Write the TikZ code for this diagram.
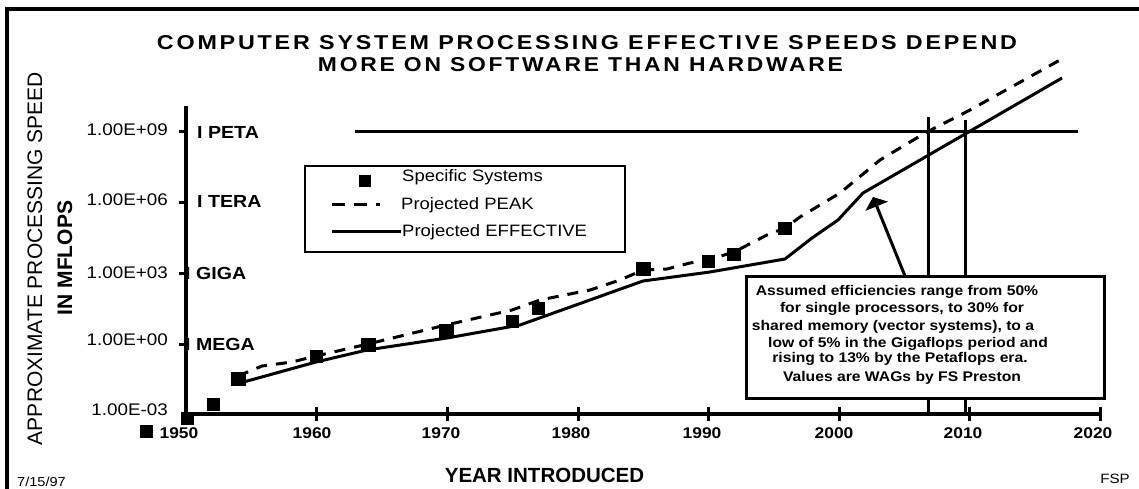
\documentclass[tikz,border=0pt]{standalone}
\usepackage{graphicx}
\usepackage{fontspec}
\setmainfont{Liberation Sans}
\newfontfamily\wide[FakeStretch=1.12]{Liberation Sans}
\newfontfamily\ttl[LetterSpace=12]{Liberation Sans}
\usetikzlibrary{arrows.meta}
\tikzset{
  lbl/.style={inner sep=0pt, anchor=east, font=\wide\fontsize{16.8}{18}\selectfont},
  mag/.style={inner sep=0pt, anchor=west, font=\wide\bfseries\fontsize{17.5}{19}\selectfont},
  yr/.style={inner sep=0pt, font=\wide\bfseries\fontsize{15.5}{17}\selectfont},
  leg/.style={inner sep=0pt, anchor=base west, font=\wide\fontsize{16.5}{18}\selectfont},
  notetxt/.style={inner sep=0pt, anchor=base, font=\wide\bfseries\fontsize{14}{16}\selectfont},
  sq/.style={fill=black, draw=none, inner sep=0pt, minimum size=13pt},
  ln/.style={line width=3pt, line join=round},
  pk/.style={line width=3pt, line join=round, dash pattern=on 11pt off 9pt},
  axis/.style={line width=3.5pt},
  tk/.style={line width=3pt},
}
\begin{document}
\begin{tikzpicture}[x=1pt,y=-1pt]
\useasboundingbox (0,0) rectangle (1139,489);
\fill[white] (0,0) rectangle (1139,489);
% frame (top and left)
\draw[line width=3.5pt] (7,489) -- (7,9) -- (1139,9);
% title
\node[inner sep=0pt] (title1) at (587,43) {\resizebox{860pt}{14pt}{\ttl\bfseries\fontsize{19.5}{20}\selectfont COMPUTER SYSTEM PROCESSING EFFECTIVE SPEEDS DEPEND}};
\node[inner sep=0pt] (title2) at (580.5,65) {\resizebox{525pt}{14pt}{\ttl\bfseries\fontsize{19.5}{20}\selectfont MORE ON SOFTWARE THAN HARDWARE}};
% y axis title
\node[inner sep=0pt, rotate=90, font=\fontsize{21}{23}\selectfont] (ytitle1) at (35,258.5) {APPROXIMATE PROCESSING SPEED};
\node[inner sep=0pt, rotate=90, font=\bfseries\fontsize{21}{23}\selectfont] (ytitle2) at (65,258) {IN MFLOPS};
% reference lines
\draw[tk] (355,132) -- (1078,132);
\draw[tk] (928,117) -- (928,414);
\draw[tk] (965,120) -- (965,414);
% axes
\draw[axis] (186,106) -- (186,414);
\draw[axis] (184.25,414) -- (1100,414);
\foreach \xx in {316,447,578,708,839,969,1100} \draw[tk] (\xx,407) -- (\xx,421);
\foreach \yy in {132,202,273,344} \draw[tk] (179,\yy) -- (186,\yy);
% y tick labels
\node[lbl] (e9) at (168,130) {1.00E+09};
\node[lbl] (e6) at (168,200) {1.00E+06};
\node[lbl] (e3) at (168,273) {1.00E+03};
\node[lbl] (e0) at (168,340) {1.00E+00};
\node[lbl] (em3) at (168,410) {1.00E-03};
\node[mag] (peta) at (197,132) {I PETA};
\node[mag] (tera) at (197,201) {I TERA};
\node[mag] (giga) at (185,273) {I GIGA};
\node[mag] (mega) at (185,344) {I MEGA};
% x tick labels
\node[yr] (x1950) at (179,433) {1950};
\node[yr] (x1960) at (312,433) {1960};
\node[yr] (x1970) at (441,433) {1970};
\node[yr] (x1980) at (571,433) {1980};
\node[yr] (x1990) at (702,433) {1990};
\node[yr] (x2000) at (834,433) {2000};
\node[yr] (x2010) at (963,433) {2010};
\node[yr] (x2020) at (1093,433) {2020};
\node[inner sep=0pt, font=\bfseries\fontsize{20.5}{22}\selectfont] (xtitle) at (544.5,475) {YEAR INTRODUCED};
\node[inner sep=0pt, anchor=west, font=\wide\fontsize{13}{15}\selectfont] (date) at (17,482) {7/15/97};
\node[inner sep=0pt, anchor=east, font=\wide\fontsize{13.5}{15}\selectfont] (fsp) at (1130,479) {FSP};
% projected effective
\draw[ln] (240,383) -- (316,362) -- (367,350) -- (447,338) -- (520,325) -- (643,281) -- (710,272) -- (785,259) -- (812,238) -- (838,220) -- (863,193) -- (1062,78);
% projected peak
\draw[pk] (238,376) -- (262,366) -- (292,362) -- (316,356) -- (368,344) -- (446,325) -- (512,310) -- (540,300) -- (560,296) -- (590,290) -- (620,280) -- (643,270) -- (667,269) -- (690,263) -- (708,260) -- (734,252) -- (767,235) -- (785,228) -- (800,217) -- (840,193) -- (880,160) -- (925,133) -- (970,110) -- (1060,60);
% specific systems
\node[sq] (s1) at (146,431) {};
\node[sq] (s2) at (187,418) {};
\node[sq] (s3) at (213,404) {};
\node[sq, minimum width=15pt, minimum height=14pt] (s4) at (238,379) {};
\node[sq] (s5) at (316,356) {};
\node[sq, minimum width=15pt, minimum height=14pt] (s6) at (368,345) {};
\node[sq, minimum width=15pt, minimum height=14pt] (s7) at (446,331) {};
\node[sq] (s8) at (512,321) {};
\node[sq] (s9) at (538,308) {};
\node[sq, minimum width=15pt, minimum height=14pt] (s10) at (643,269) {};
\node[sq] (s11) at (708,261) {};
\node[sq, minimum width=14pt] (s12) at (734,254) {};
\node[sq, minimum width=14pt] (s13) at (785,228) {};
% legend
\node[draw, line width=2.5pt, fill=white, minimum width=320pt, minimum height=86pt, inner sep=0pt] (legend) at (465,209) {};
\node[sq, minimum size=12pt] (legsq) at (365,181) {};
\node[leg] (legA) at (402,182) {Specific Systems};
\draw[pk, dash pattern=on 13pt off 9pt] (332,204) -- (380,204);
\node[leg] (legB) at (401,209) {Projected PEAK};
\draw[ln] (332,231) -- (401,231);
\node[leg] (legC) at (402,236.5) {Projected EFFECTIVE};
% annotation
\node[draw, line width=3pt, fill=white, minimum width=358pt, minimum height=122pt, inner sep=0pt] (notebox) at (925,337) {};
\node[notetxt] (n1) at (897,295) {Assumed efficiencies range from 50\%};
\node[notetxt] (n2) at (902,312) {for single processors, to 30\% for};
\node[notetxt] (n3) at (893,330) {shared memory (vector systems), to a};
\node[notetxt] (n4) at (908,347) {low of 5\% in the Gigaflops period and};
\node[notetxt] (n5) at (900,362) {rising to 13\% by the Petaflops era.};
\node[notetxt] (n6) at (902,381) {Values are WAGs by FS Preston};
\coordinate (arrowstart) at (905,276);
\coordinate (arrowtip) at (873,197);
\draw[line width=3pt, -{Triangle[width=24pt,length=10pt]}] (arrowstart) -- (arrowtip);
\end{tikzpicture}
\end{document}
